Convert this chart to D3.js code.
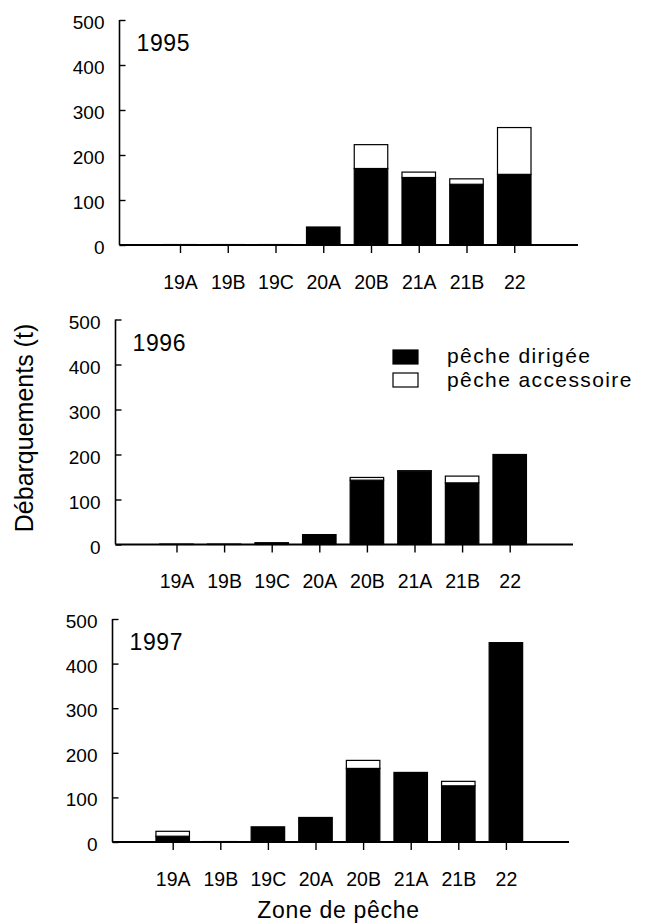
<!DOCTYPE html>
<html>
<head>
<meta charset="utf-8">
<script src="https://cdn.jsdelivr.net/npm/d3@7"></script>
<style>
  html, body { margin: 0; padding: 0; background: #fff; }
  svg { display: block; font-family: "Liberation Sans", Arial, Helvetica, sans-serif; }
</style>
</head>
<body>
<svg id="chart" width="647" height="924"></svg>
<script>
// ---- data ----
const zones = ["19A", "19B", "19C", "20A", "20B", "21A", "21B", "22"];
const years = ["1995", "1996", "1997"];
const dirigee1995    = [1, 1, 1, 40, 170, 150, 135, 157];
const accessoire1995 = [0, 0, 0, 0, 53, 12, 12, 104];
const dirigee1996    = [1, 1, 4, 22, 143, 163, 137, 200];
const accessoire1996 = [0, 0, 0, 0, 6, 1, 15, 0];
const dirigee1997    = [13, 1, 34, 55, 165, 156, 126, 447];
const accessoire1997 = [11, 0, 0, 0, 18, 0, 10, 0];
const yTicks = [0, 100, 200, 300, 400, 500];
const legendLabels = ["pêche dirigée", "pêche accessoire"];
const yTitle = "Débarquements (t)";
const xTitle = "Zone de pêche";

const seriesByYear = {
  "1995": [dirigee1995, accessoire1995],
  "1996": [dirigee1996, accessoire1996],
  "1997": [dirigee1997, accessoire1997]
};

// ---- layout (per panel) ----
const panels = [
  { axisX: 119.5, base: 245,   top: 20,    tick0: 180,   step: 47.75, xEnd: 578 },
  { axisX: 115.5, base: 544.5, top: 319.5, tick0: 176.5, step: 47.6,  xEnd: 573 },
  { axisX: 112.5, base: 842,   top: 619,   tick0: 172.7, step: 47.6,  xEnd: 569 }
];
const barW = 33.5;

const svg = d3.select("#chart");

years.forEach((yr, p) => {
  const L = panels[p];
  const [dir, acc] = seriesByYear[yr];
  const g = svg.append("g");

  const y = d3.scaleLinear().domain([0, 500]).range([L.base, L.top]);
  const x = d3.scalePoint().domain(zones).range([L.tick0, L.tick0 + L.step * (zones.length - 1)]);

  // stacked data
  const rows = zones.map((z, i) => ({ zone: z, dirigee: dir[i], accessoire: acc[i] }));
  const stack = d3.stack().keys(["dirigee", "accessoire"])(rows);

  // bars
  stack.forEach((layer, li) => {
    g.append("g").selectAll("rect")
      .data(layer.filter(d => d[1] - d[0] > 0))
      .join("rect")
      .attr("x", d => x(d.data.zone) - barW / 2)
      .attr("width", barW)
      .attr("y", d => y(d[1]))
      .attr("height", d => Math.max(0, y(d[0]) - y(d[1])))
      .attr("fill", li === 0 ? "#000" : "#fff")
      .attr("stroke", "#000")
      .attr("stroke-width", 1.2);
  });

  // y axis
  const yAxis = d3.axisLeft(y).tickValues(yTicks).tickSizeInner(-6).tickSizeOuter(0).tickPadding(15);
  const ya = g.append("g").attr("transform", `translate(${L.axisX},0)`).call(yAxis);
  ya.select(".domain").remove();
  ya.selectAll(".tick line").attr("stroke", "#000").attr("stroke-width", 1.4);
  ya.selectAll(".tick text")
    .attr("fill", "#000")
    .attr("font-size", 19)
    .attr("font-family", "Liberation Sans, Arial, sans-serif")
    .attr("dy", "0.45em");
  g.append("line")
    .attr("x1", L.axisX).attr("x2", L.axisX)
    .attr("y1", y(500)).attr("y2", y(0))
    .attr("stroke", "#000").attr("stroke-width", 1.6);

  // x axis
  const xAxis = d3.axisBottom(x).tickSizeInner(8).tickSizeOuter(0).tickPadding(22);
  const xa = g.append("g").attr("transform", `translate(0,${L.base})`).call(xAxis);
  xa.select(".domain").remove();
  xa.selectAll(".tick line").attr("stroke", "#000").attr("stroke-width", 1.4);
  xa.selectAll(".tick text")
    .attr("fill", "#000")
    .attr("font-size", 19.5)
    .attr("font-family", "Liberation Sans, Arial, sans-serif");
  g.append("line")
    .attr("x1", L.axisX).attr("x2", L.xEnd)
    .attr("y1", L.base).attr("y2", L.base)
    .attr("stroke", "#000").attr("stroke-width", 2.2);

  // year label
  g.append("text")
    .attr("x", L.axisX + 17)
    .attr("y", L.top + 31)
    .attr("font-size", 23)
    .attr("letter-spacing", 0.6)
    .attr("fill", "#000")
    .text(yr);
});

// legend (in middle panel)
const legend = svg.append("g");
const legendFill = ["#000", "#fff"];
legendLabels.forEach((lab, i) => {
  legend.append("rect")
    .attr("x", 393).attr("y", 350 + i * 23)
    .attr("width", 25).attr("height", 14)
    .attr("fill", legendFill[i]).attr("stroke", "#000").attr("stroke-width", 1.2);
  legend.append("text")
    .attr("x", 447).attr("y", 363 + i * 23.5)
    .attr("font-size", 21)
    .attr("letter-spacing", 1.4)
    .attr("fill", "#000")
    .text(lab);
});

// axis titles
svg.append("text")
  .attr("transform", "translate(33,428) rotate(-90)")
  .attr("text-anchor", "middle")
  .attr("font-size", 25)
  .attr("fill", "#000")
  .text(yTitle);

svg.append("text")
  .attr("x", 338.5).attr("y", 918)
  .attr("text-anchor", "middle")
  .attr("font-size", 23)
  .attr("letter-spacing", 0.7)
  .attr("fill", "#000")
  .text(xTitle);
</script>
</body>
</html>
